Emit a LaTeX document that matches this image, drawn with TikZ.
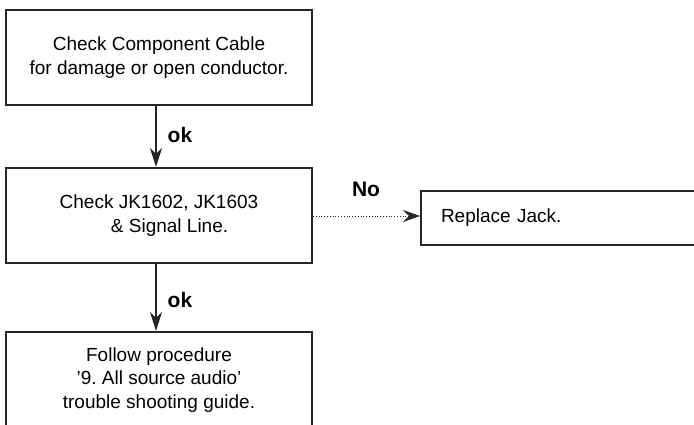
\documentclass[tikz,border=0pt]{standalone}
\usepackage{fontspec}
\setmainfont{Liberation Sans}
\usetikzlibrary{arrows.meta}
\frenchspacing
\tikzset{
  box/.style={draw=black!85, line width=2pt, inner sep=0pt, align=center, font=\fontsize{19}{23.5}\selectfont},
  flow/.style={draw=black!85, line width=1.4pt, -{Stealth[length=19pt,width=12pt,inset=6pt]}},
  noflow/.style={draw=black!85, line width=0.8pt, dotted, -{Stealth[length=17pt,width=12pt,inset=6pt]}},
  lbl/.style={font=\fontsize{21}{21}\selectfont\bfseries, inner sep=0pt}
}
\begin{document}
\begin{tikzpicture}[x=1pt,y=-1pt]
\useasboundingbox (0,0) rectangle (694,425);
\clip (0,0) rectangle (694,425);
\node[box, minimum width=306pt, minimum height=95pt] (b1) at (159,57.5)
  {Check Component Cable\\for damage or open conductor.};
\node[box, minimum width=306pt, minimum height=95pt] (b2) at (159,215.5)
  {\raisebox{-3pt}{Check JK1602, JK1603}\\\raisebox{-3pt}{\ \ \ \ \& Signal Line.}};
\node[box, minimum width=306pt, minimum height=96pt] (b3) at (159,380)
  {Follow procedure\\\char"2019 9. All source audio\char"2019\\trouble shooting guide.};
\node[box, anchor=west, minimum height=54pt, text width=250pt, inner xsep=20pt, align=left] (b4) at (420,218)
  {Replace Jack.};
\draw[flow] (b1.south -| 156,0) -- (b2.north -| 156,0);
\draw[flow] (b2.south -| 156,0) -- (b3.north -| 156,0);
\draw[noflow] (b2.east |- 0,216) -- (b4.west |- 0,216);
\node[lbl] (ok1) at (180,135) {ok};
\node[lbl] (ok2) at (180,300) {ok};
\node[lbl] (no) at (366,189) {No};
\end{tikzpicture}
\end{document}
